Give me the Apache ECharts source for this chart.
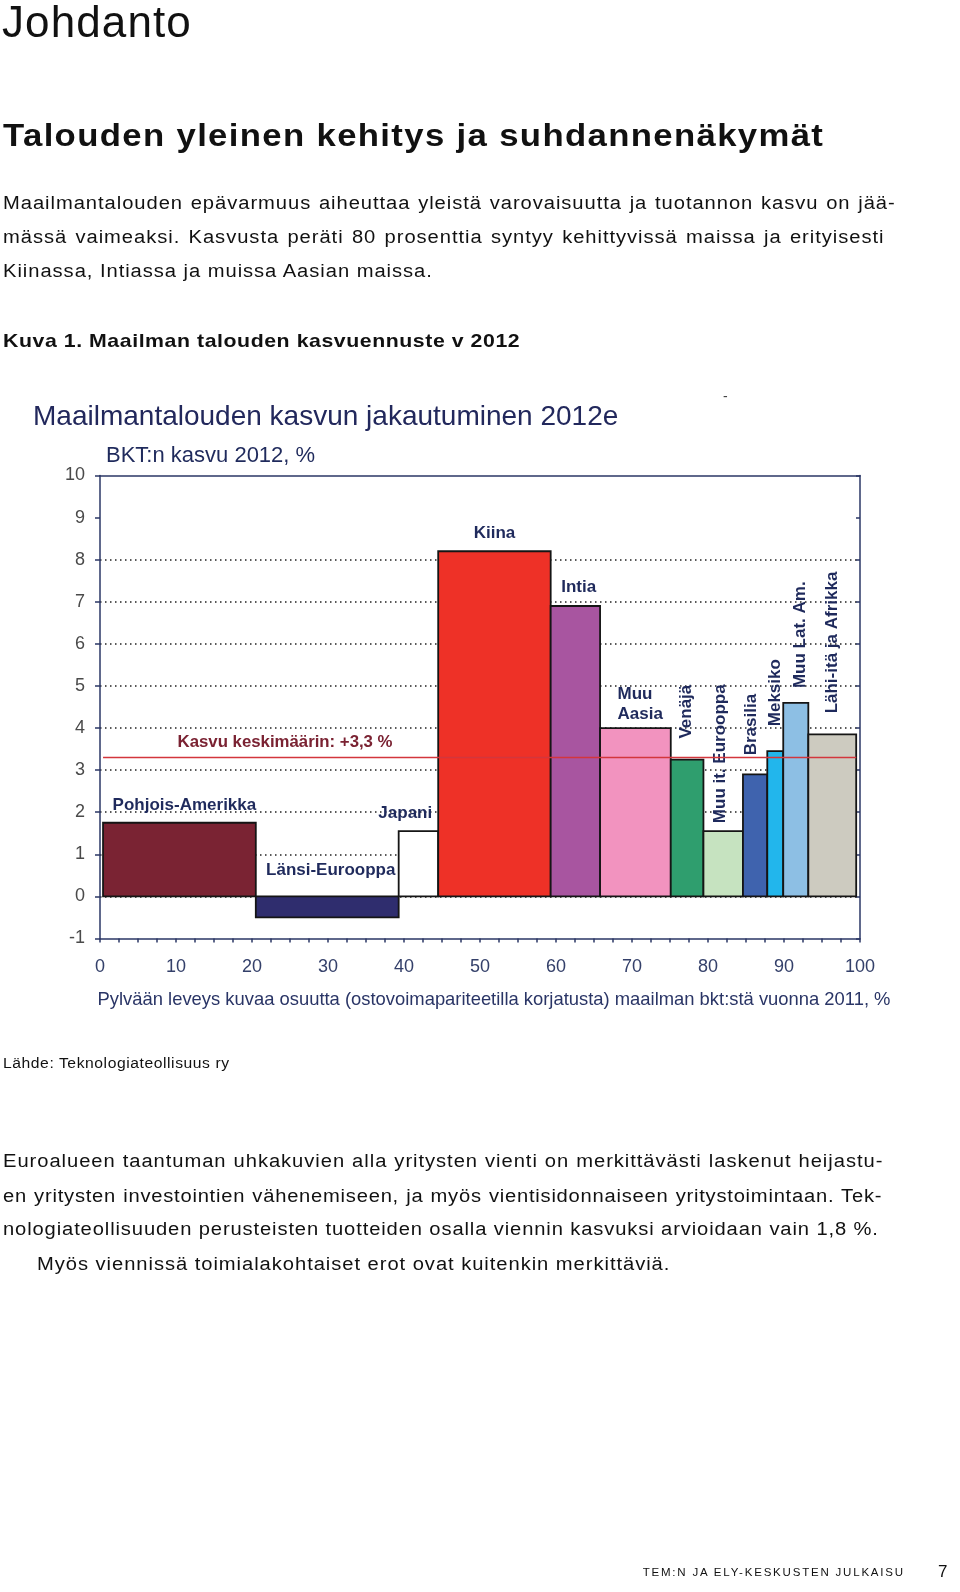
<!DOCTYPE html>
<html><head><meta charset="utf-8">
<script src="https://cdn.jsdelivr.net/npm/echarts@6/dist/echarts.min.js"></script>
<style>
html,body{margin:0;padding:0;background:#fff;}
#page{position:relative;width:960px;height:1592px;overflow:hidden;font-family:"Liberation Sans",Arial,sans-serif;color:#111;}
#chart{position:absolute;left:0;top:0;width:960px;height:1592px;}
.t{position:absolute;left:3px;line-height:1;white-space:nowrap;z-index:2;transform-origin:0 0;}
.s{transform:scaleX(1.12);}
.p{font-size:18px;letter-spacing:0.85px;}
.j{text-align:justify;text-align-last:justify;}
</style></head>
<body><div id="page">
<div id="chart"></div>
<div class="t" style="left:2px;top:-0.5px;font-size:44px;letter-spacing:1.1px;">Johdanto</div>
<div class="t s" style="top:119.5px;font-size:31px;font-weight:bold;letter-spacing:1.2px;">Talouden yleinen kehitys ja suhdannenäkymät</div>
<div class="t s p j" style="top:193.8px;width:797px;">Maailmantalouden epävarmuus aiheuttaa yleistä varovaisuutta ja tuotannon kasvu on jää-</div>
<div class="t s p j" style="top:227.8px;width:787px;">mässä vaimeaksi. Kasvusta peräti 80 prosenttia syntyy kehittyvissä maissa ja erityisesti</div>
<div class="t s p" style="top:261.8px;">Kiinassa, Intiassa ja muissa Aasian maissa.</div>
<div class="t s" style="top:330.6px;font-size:19px;font-weight:bold;letter-spacing:0.5px;">Kuva 1. Maailman talouden kasvuennuste v 2012</div>
<div class="t s" style="top:1056px;font-size:14px;letter-spacing:0.5px;">Lähde: Teknologiateollisuus ry</div>
<div class="t s p j" style="top:1151.5px;width:786px;">Euroalueen taantuman uhkakuvien alla yritysten vienti on merkittävästi laskenut heijastu-</div>
<div class="t s p j" style="top:1186.5px;width:785px;letter-spacing:0.68px;">en yritysten investointien vähenemiseen, ja myös vientisidonnaiseen yritystoimintaan. Tek-</div>
<div class="t s p j" style="top:1219.8px;width:782px;letter-spacing:0.78px;">nologiateollisuuden perusteisten tuotteiden osalla viennin kasvuksi arvioidaan vain 1,8 %.</div>
<div class="t s p" style="left:37px;top:1254.8px;">Myös viennissä toimialakohtaiset erot ovat kuitenkin merkittäviä.</div>
<div class="t" style="left:642.7px;top:1567.3px;font-size:11.5px;letter-spacing:1.8px;">TEM:N JA ELY-KESKUSTEN JULKAISU</div>
<div class="t" style="left:938px;top:1562.6px;font-size:17px;">7</div>
</div>
<script>
// ---- data ----
const regions = ['Pohjois-Amerikka','Länsi-Eurooppa','Japani','Kiina','Intia','Muu Aasia','Venäjä','Muu it. Eurooppa','Brasilia','Meksiko','Muu Lat. Am.','Lähi-itä ja Afrikka'];
const worldShare = [20.1, 18.8, 5.2, 14.8, 6.5, 9.3, 4.3, 5.2, 3.2, 2.1, 3.3, 6.3];
const gdpGrowth = [1.75, -0.5, 1.55, 8.2, 6.9, 4.0, 3.25, 1.55, 2.9, 3.45, 4.6, 3.85];
const averageGrowth = 3.3;
const averageLabel = 'Kasvu keskimäärin: +3,3 %';
const xRange = [0, 100];
const yRange = [-1, 10];
const chartTitle = 'Maailmantalouden kasvun jakautuminen 2012e';
const yTitle = 'BKT:n kasvu 2012, %';
const xTitle = 'Pylvään leveys kuvaa osuutta (ostovoimapariteetilla korjatusta) maailman bkt:stä vuonna 2011, %';

// ---- styles / layout ----
const firstBarStart = 0.4;
const barColors = ['#7a2333','#2f2d6e','#ffffff','#ee3127','#a855a0','#f293bf','#2f9e6e','#c6e3c0','#3f63ae','#22b6ec','#8dbfe4','#cdcbc0'];
const labelLayout = [
  {dx:5, dy:-17},
  {dx:3.5, dy:-26.4},
  {anchor:'right', dx:-6, dy:-18, align:'right'},
  {dx:0, dy:-17.6},
  {dx:3.3, dy:-18.7},
  {anchor:'left', dx:17.4, dy:-23.4, align:'left', text:'Muu\nAasia'},
  {rot:true, dx:-0.5, dy:-21},
  {rot:true, dx:-3, dy:-8},
  {rot:true, dx:-3.7, dy:-19},
  {rot:true, dx:0.5, dy:-25},
  {rot:true, dx:4.3, dy:-14.7},
  {rot:true, dx:0, dy:-21}
];
const avgLabelAt = 10.2;
const FONT = '"Liberation Sans", Arial, sans-serif';
const NAVY = '#2b3766';
const LABEL_NAVY = '#1f2a5c';

let acc = firstBarStart;
const barData = worldShare.map((w, i) => { const s = acc; acc += w; return [s, acc, gdpGrowth[i], i]; });
const barEnd = acc;

const chart = echarts.init(document.getElementById('chart'), null, {renderer:'canvas'});
const gridColors = [];
for (let v = yRange[0]; v <= yRange[1]; v++) gridColors.push(v >= 0 && v <= 8 ? '#222' : 'rgba(0,0,0,0)');

const axisLineStyle = {color: NAVY, width: 1.5};

chart.setOption({
  animation: false,
  backgroundColor: 'transparent',
  title: [
    {text: chartTitle, left: 33, top: 403.5, padding: 0,
     textStyle: {fontSize: 28, fontWeight: 'normal', color: '#22285c', fontFamily: FONT}},
    {text: yTitle, left: 106, top: 445, padding: 0,
     textStyle: {fontSize: 22, fontWeight: 'normal', color: LABEL_NAVY, fontFamily: FONT}}
  ],
  grid: {left: 100, right: 100, top: 475.5, bottom: 653.5, containLabel: false, outerBoundsMode: 'none'},
  xAxis: [
    {type: 'value', position: 'bottom', min: xRange[0], max: xRange[1], interval: 10,
     axisLine: {show: true, onZero: false, lineStyle: axisLineStyle},
     axisTick: {show: true, length: 4, lineStyle: axisLineStyle},
     minorTick: {show: true, splitNumber: 4, length: 4, lineStyle: axisLineStyle},
     axisLabel: {fontSize: 18, color: '#34406a', margin: 20, fontFamily: FONT},
     splitLine: {show: false}, minorSplitLine: {show: false},
     name: xTitle, nameLocation: 'middle', nameGap: 52,
     nameTextStyle: {fontSize: 18.4, color: '#2a3566', fontFamily: FONT, padding: [0, 0, 0, 28]}},
    {type: 'value', position: 'top', min: xRange[0], max: xRange[1],
     axisLine: {show: true, onZero: false, lineStyle: axisLineStyle},
     axisTick: {show: false}, axisLabel: {show: false}, splitLine: {show: false}}
  ],
  yAxis: [
    {type: 'value', min: yRange[0], max: yRange[1], interval: 1,
     axisLine: {show: true, onZero: false, lineStyle: axisLineStyle},
     axisTick: {show: true, length: 5, lineStyle: axisLineStyle},
     axisLabel: {fontSize: 18, color: '#4a4a4a', margin: 15, fontFamily: FONT},
     splitLine: {show: true, lineStyle: {color: gridColors, type: [1.5, 3.5], width: 1.5}}},
    {type: 'value', position: 'right', min: yRange[0], max: yRange[1], interval: 1,
     axisLine: {show: true, onZero: false, lineStyle: axisLineStyle},
     axisTick: {show: true, inside: true, length: 4, lineStyle: axisLineStyle},
     axisLabel: {show: false}, splitLine: {show: false}}
  ],
  graphic: [
    {type: 'text', left: 723, top: 390, style: {text: '-', fontSize: 14, fill: '#444', fontFamily: FONT}}
  ],
  series: [
    {type: 'custom', name: 'BKT', xAxisIndex: 0, yAxisIndex: 0, z: 3,
     encode: {x: [0, 1], y: 2},
     data: barData,
     renderItem: function (params, api) {
       const x0 = api.value(0), x1 = api.value(1), v = api.value(2), i = api.value(3);
       const pA = api.coord([x0, 0]), pB = api.coord([x1, v]);
       const top = Math.min(pA[1], pB[1]);
       const topPos = api.coord([x0, Math.max(v, 0)])[1];
       const L = labelLayout[i];
       let ax = L.anchor === 'left' ? pA[0] : L.anchor === 'right' ? pB[0] : (pA[0] + pB[0]) / 2;
       ax += L.dx;
       const ay = topPos + L.dy;
       const txt = L.text || regions[i];
       const textStyle = {text: txt, fill: LABEL_NAVY, fontSize: 17, fontWeight: 'bold', fontFamily: FONT,
                          verticalAlign: 'middle', lineHeight: 20,
                          align: L.rot ? 'left' : (L.align || 'center')};
       const textEl = {type: 'text', x: ax, y: ay, rotation: L.rot ? Math.PI / 2 : 0, style: textStyle, z2: 10};
       return {type: 'group', children: [
         {type: 'rect', shape: {x: pA[0], y: top, width: pB[0] - pA[0], height: Math.abs(pB[1] - pA[1])},
          style: {fill: barColors[i], stroke: '#151515', lineWidth: 1.8}},
         textEl
       ]};
     }
    },
    {type: 'custom', name: 'Keskimäärin', xAxisIndex: 0, yAxisIndex: 0, z: 5,
     encode: {y: 0},
     data: [[averageGrowth]],
     renderItem: function (params, api) {
       const v = api.value(0);
       const p0 = api.coord([firstBarStart, v]), p1 = api.coord([barEnd, v]);
       const pl = api.coord([avgLabelAt, v]);
       return {type: 'group', children: [
         {type: 'line', shape: {x1: p0[0], y1: p0[1], x2: p1[0], y2: p1[1]}, style: {stroke: '#d3363c', lineWidth: 1.5}},
         {type: 'text', x: pl[0], y: pl[1] - 15,
          style: {text: averageLabel, fill: '#7a2232', fontSize: 16.8, fontWeight: 'bold', fontFamily: FONT, align: 'left', verticalAlign: 'middle'}}
       ]};
     }
    }
  ]
});
</script>
</body></html>
